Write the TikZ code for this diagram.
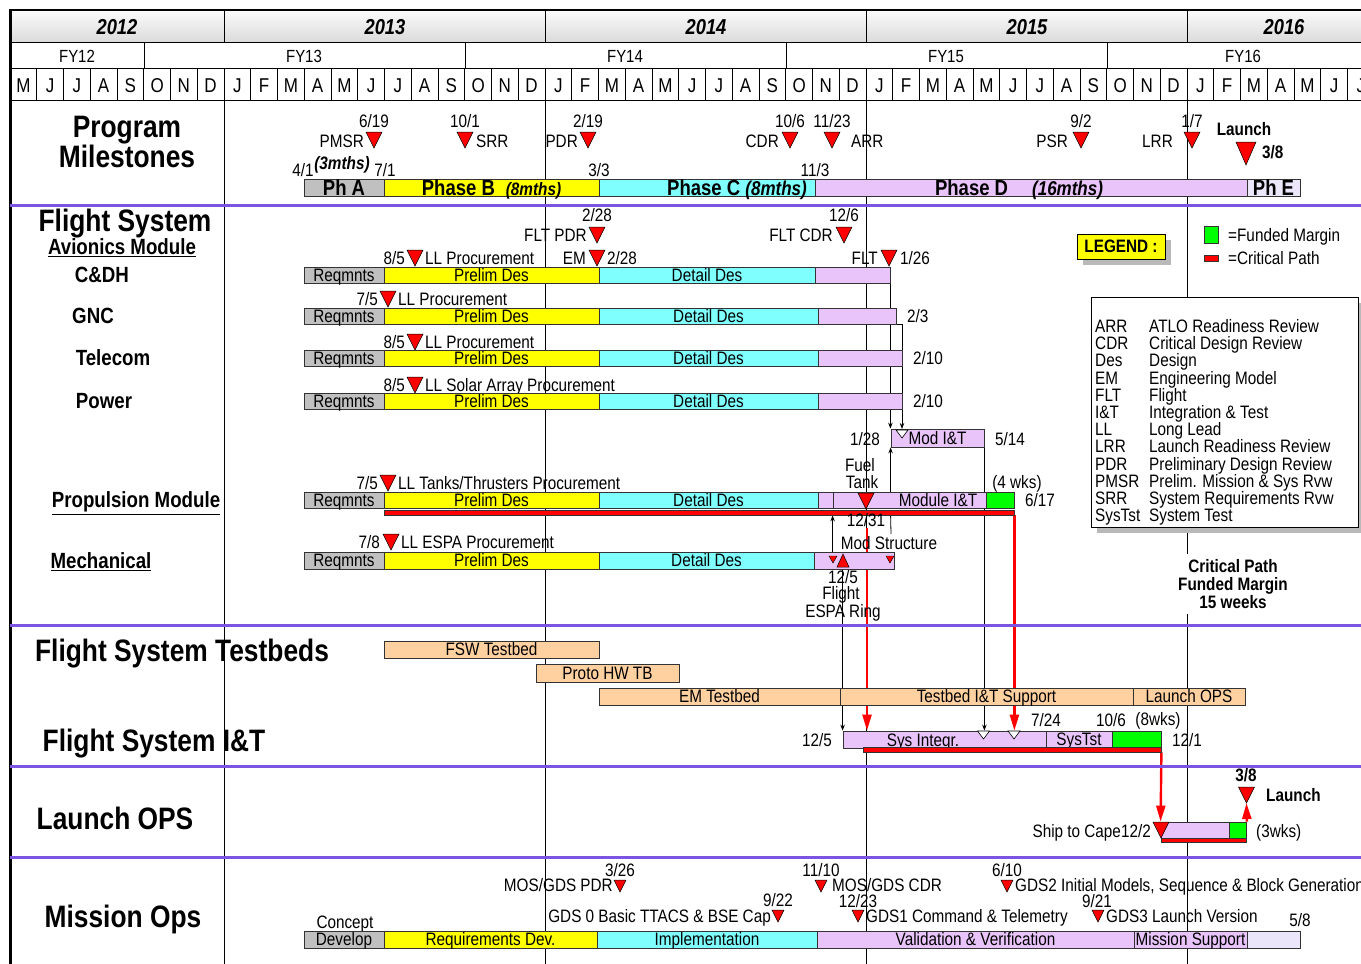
\documentclass[tikz,border=0pt]{standalone}
\usepackage{fontspec}
\setmainfont{Liberation Sans}[FakeStretch=0.85]
\usetikzlibrary{arrows.meta,backgrounds,calc}

\definecolor{phgray}{RGB}{192,192,192}
\definecolor{phyel}{RGB}{255,255,0}
\definecolor{phcyan}{RGB}{128,255,255}
\definecolor{phlav}{RGB}{232,196,250}
\definecolor{phlav2}{RGB}{236,230,250}
\definecolor{margin}{RGB}{0,255,0}
\definecolor{peach}{RGB}{255,208,160}
\definecolor{sectline}{RGB}{124,84,226}

\newcommand{\fnm}{\fontsize{18}{21}\selectfont}
\newcommand{\fttl}{\fontsize{31}{36}\selectfont\bfseries}
\newcommand{\fsub}{\fontsize{22}{26}\selectfont\bfseries}
\newcommand{\fph}{\fontsize{21.8}{26}\selectfont\bfseries}
\newcommand{\fyr}{\fontsize{21.6}{26}\selectfont\bfseries\itshape}
\newcommand{\fmon}{\fontsize{20}{24}\selectfont}
\newcommand{\ffy}{\fontsize{17.6}{21}\selectfont}

% bar segment: [opts]{name}{fill}{x1}{x2}{y1}{y2}{text}
\newcommand{\seg}[8][]{%
  \node[bar,fill=#3,minimum width={#5pt-#4pt},minimum height={#7pt-#6pt},#1]
    (#2) at ({(#4+#5)/2},{(#6+#7)/2}) {#8};}

\begin{document}
\begin{tikzpicture}[x=1pt,y=-1pt,
  >={Stealth[length=6pt,width=4.5pt]},
  lbl/.style={font=\fnm,inner sep=0pt,text height=12.9pt,text depth=0pt},
  blbl/.style={lbl,font=\fnm\bfseries},
  ttl/.style={font=\fttl,inner sep=0pt,text height=22.2pt,text depth=0pt},
  sub/.style={font=\fsub,inner sep=0pt,text height=15.8pt,text depth=0pt},
  yrlbl/.style={font=\fyr,inner sep=0pt,text height=15.5pt,text depth=0pt},
  monlbl/.style={font=\fmon,inner sep=0pt,text height=14.3pt,text depth=0pt},
  fylbl/.style={font=\ffy,inner sep=0pt,text height=12.6pt,text depth=0pt},
  bar/.style={draw=black!80,line width=0.8pt,inner sep=0pt,font=\fnm,
              text height=12.9pt,text depth=0pt},
  phbar/.style={font=\fph,text height=15.6pt},
  phtext/.style={lbl,font=\fph,text height=15.6pt},
  flat/.style={text height=0pt},
  hline/.style={line width=0.9pt},
  sect/.style={draw=sectline,line width=3pt},
  conn/.style={->,line width=0.8pt},
  crit/.style={red,line width=2.4pt,-{Triangle[length=16pt,width=9pt]}},
  ms/.pic={\filldraw[fill=red,draw=black,line width=0.5pt] (-8,0) -- (8,0) -- (0,16) -- cycle;},
  sms/.pic={\filldraw[fill=red,draw=black,line width=0.5pt] (-6,0) -- (6,0) -- (0,12) -- cycle;},
  bms/.pic={\filldraw[fill=red,draw=black,line width=0.5pt] (-10,0) -- (10,0) -- (0,23) -- cycle;},
  ums/.pic={\filldraw[fill=red,draw=black,line width=0.5pt] (-6,0) -- (6,0) -- (0,-13) -- cycle;},
  tms/.pic={\filldraw[fill=red,draw=black,line width=0.4pt] (-4,0) -- (4,0) -- (0,7) -- cycle;},
  wms/.pic={\filldraw[fill=white,draw=black,line width=0.6pt] (-6,0) -- (6,0) -- (0,8) -- cycle;},
]
\useasboundingbox (0,0) rectangle (1361,964);
\clip (0,0) rectangle (1361,964);

% header
\shade[top color=gray!3,bottom color=gray!28] (10,10) rectangle (1361,42);
\draw[hline] (10,42) -- (1361,42) (10,68) -- (1361,68) (10,100) -- (1361,100);
\draw[line width=2.6pt] (9,10) -- (1361,10);
\draw[line width=3pt] (10,9) -- (10,964);
\foreach \x in {224,545,866,1187} \draw[hline] (\x,10) -- (\x,42);
\foreach \x in {144,465,786,1107} \draw[hline] (\x,42) -- (\x,68);
\foreach \i in {1,...,51} \draw[hline] ({10+26.75*\i},68) -- ({10+26.75*\i},100);
\foreach \x/\yr in {117/2012,385/2013,706/2014,1027/2015,1284/2016}
  \node[yrlbl] (yr\yr) at (\x,27) {\yr};
\foreach \x/\fy in {77/12,304/13,625/14,946/15,1243/16}
  \node[fylbl] (fy\fy) at (\x,56) {FY\fy};
\foreach \m [count=\i from 0] in {M,J,J,A,S,O,N,D,J,F,M,A,M,J,J,A,S,O,N,D,
    J,F,M,A,M,J,J,A,S,O,N,D,J,F,M,A,M,J,J,A,S,O,N,D,J,F,M,A,M,J,J}
  \node[monlbl] (mon\i) at ({23.375+26.75*\i},85) {\m};

\foreach \y in {205,625,766,857} \draw[sect] (10,\y) -- (1361,\y);

% section titles
\node[ttl] (tprog) at (127,126) {Program};
\node[ttl] (tmile) at (127,156) {Milestones};
\node[ttl] (tfs) at (125,220) {Flight System};
\node[sub] (tav) at (122,247) {\underline{Avionics Module}};
\node[sub] (tcdh) at (102,275) {C\&DH};
\node[sub] (tgnc) at (93,316) {GNC};
\node[sub] (ttel) at (113,358) {Telecom};
\node[sub] (tpow) at (104,401) {Power};
\node[sub] (tprop) at (136,500) {\underline{Propulsion Module}};
\node[sub] (tmech) at (101,561) {\underline{Mechanical}};
\node[ttl] (ttb) at (182,650) {Flight System Testbeds};
\node[ttl] (tit) at (154,740) {Flight System I\&T};
\node[ttl] (tlops) at (115,818) {Launch OPS};
\node[ttl] (tmops) at (123,916) {Mission Ops};

% program milestones
\pic at (374,132) {ms};
\node[lbl] (d619) at (374,121) {6/19};
\node[lbl,anchor=east] (pmsr) at (364,141) {PMSR};
\pic at (465,132) {ms};
\node[lbl] (d101) at (465,121) {10/1};
\node[lbl,anchor=west] (srr) at (476,141) {SRR};
\pic at (588,132) {ms};
\node[lbl] (d219) at (588,121) {2/19};
\node[lbl,anchor=east] (pdr) at (578,141) {PDR};
\pic at (790,132) {ms};
\node[lbl] (d106) at (790,121) {10/6};
\node[lbl,anchor=east] (cdr) at (779,141) {CDR};
\pic at (832,132) {ms};
\node[lbl] (d1123) at (832,121) {11/23};
\node[lbl,anchor=west] (arr) at (851,141) {ARR};
\pic at (1081,132) {ms};
\node[lbl] (d92) at (1081,121) {9/2};
\node[lbl,anchor=east] (psr) at (1068,141) {PSR};
\pic at (1192,132) {ms};
\node[lbl] (d17) at (1192,121) {1/7};
\node[lbl,anchor=east] (lrr) at (1173,141) {LRR};
\pic at (1246,142) {bms};
\node[blbl] (launch) at (1244,129) {Launch};
\node[blbl,anchor=west] (d38) at (1262,152) {3/8};

\node[lbl] (d41) at (303,170) {4/1};
\node[blbl,font=\fnm\bfseries\itshape] (m3) at (342,163) {(3mths)};
\node[lbl] (d71) at (385,170) {7/1};
\node[lbl] (d33) at (599,170) {3/3};
\node[lbl] (d113) at (815,170) {11/3};

\seg[phbar]{pha}{phgray}{304}{384}{179}{196}{Ph A}
\seg[phbar]{phb}{phyel}{384}{599}{179}{196}{Phase B\enspace{\fontsize{18}{20}\selectfont\itshape(8mths)}}
\seg[phbar]{phc}{phcyan}{599}{815}{179}{196}{}
\node[phtext] (phclbl) at (737,187.5) {Phase C {\fontsize{20}{22}\selectfont\itshape(8mths)}};
\seg[phbar]{phd}{phlav}{815}{1247}{179}{196}{}
\node[phtext] (phdlbl) at (1019,187.5) {Phase D\hspace{24pt}{\fontsize{20}{22}\selectfont\itshape(16mths)}};
\seg[phbar]{phe}{phlav2}{1247}{1300}{179}{196}{Ph E}

% avionics module
\node[lbl] (d228a) at (597,215) {2/28};
\node[lbl,anchor=east] (fltpdr) at (587,235) {FLT PDR};
\pic at (597,227) {ms};
\node[lbl] (d126) at (844,215) {12/6};
\node[lbl,anchor=east] (fltcdr) at (833,235) {FLT CDR};
\pic at (844,227) {ms};

\pic at (415,250) {ms};
\node[lbl,anchor=east] (d85a) at (405,258) {8/5};
\node[lbl,anchor=west] (llcdh) at (425,258) {LL Procurement};
\pic at (597,250) {ms};
\node[lbl,anchor=east] (em) at (586,258) {EM};
\node[lbl,anchor=west] (d228b) at (607,258) {2/28};
\pic at (889,250) {ms};
\node[lbl,anchor=east] (flt) at (878,258) {FLT};
\node[lbl,anchor=west] (d1126) at (900,258) {1/26};

\seg{cdh1}{phgray}{304}{384}{267}{283}{Reqmnts}
\seg{cdh2}{phyel}{384}{599}{267}{283}{Prelim Des}
\seg{cdh3}{phcyan}{599}{815}{267}{283}{Detail Des}
\seg{cdh4}{phlav}{815}{890}{267}{283}{}

\pic at (388,291) {ms};
\node[lbl,anchor=east] (d75a) at (378,299) {7/5};
\node[lbl,anchor=west] (llgnc) at (398,299) {LL Procurement};
\seg{gnc1}{phgray}{304}{384}{308}{324}{Reqmnts}
\seg{gnc2}{phyel}{384}{599}{308}{324}{Prelim Des}
\seg{gnc3}{phcyan}{599}{818}{308}{324}{Detail Des}
\seg{gnc4}{phlav}{818}{896}{308}{324}{}
\node[lbl,anchor=west] (d23) at (907,316) {2/3};

\pic at (415,334) {ms};
\node[lbl,anchor=east] (d85b) at (405,342) {8/5};
\node[lbl,anchor=west] (lltel) at (425,342) {LL Procurement};
\seg{tel1}{phgray}{304}{384}{350}{366}{Reqmnts}
\seg{tel2}{phyel}{384}{599}{350}{366}{Prelim Des}
\seg{tel3}{phcyan}{599}{818}{350}{366}{Detail Des}
\seg{tel4}{phlav}{818}{902}{350}{366}{}
\node[lbl,anchor=west] (d210a) at (913,358) {2/10};

\pic at (415,377) {ms};
\node[lbl,anchor=east] (d85c) at (405,385) {8/5};
\node[lbl,anchor=west] (llpow) at (425,385) {LL Solar Array Procurement};
\seg{pow1}{phgray}{304}{384}{393}{409}{Reqmnts}
\seg{pow2}{phyel}{384}{599}{393}{409}{Prelim Des}
\seg{pow3}{phcyan}{599}{818}{393}{409}{Detail Des}
\seg{pow4}{phlav}{818}{902}{393}{409}{}
\node[lbl,anchor=west] (d210b) at (913,401) {2/10};

\seg{modit}{phlav}{891}{984}{429}{447}{Mod I\&T}
\pic at (902,430) {wms};
\node[lbl,anchor=east] (d128) at (880,439) {1/28};
\node[lbl,anchor=west] (d514) at (995,439) {5/14};

% propulsion module
\pic at (388,475) {ms};
\node[lbl,anchor=east] (d75b) at (378,483) {7/5};
\node[lbl,anchor=west] (llprop) at (398,483) {LL Tanks/Thrusters Procurement};
\node[lbl] (fuel) at (860,465) {Fuel};
\node[lbl] (tank) at (862,482) {Tank};
\node[lbl] (wk4) at (1017,482) {(4 wks)};
\seg{prop1}{phgray}{304}{384}{492}{508}{Reqmnts}
\seg{prop2}{phyel}{384}{599}{492}{508}{Prelim Des}
\seg{prop3}{phcyan}{599}{818}{492}{508}{Detail Des}
\seg{prop4}{phlav}{818}{833}{492}{508}{}
\seg{prop5}{phlav}{833}{986}{492}{508}{}
\node[lbl] (modlbl) at (938,500) {Module I\&T};
\seg{prop6}{margin}{986}{1014}{492}{508}{}
\seg[flat]{pcrit}{red}{384}{1014}{510}{515}{}
\pic at (866,493) {ms};
\node[lbl,anchor=west] (d617) at (1025,500) {6/17};
\node[lbl] (d1231) at (866,520) {12/31};

% mechanical
\pic at (391,534) {ms};
\node[lbl,anchor=east] (d78) at (380,542) {7/8};
\node[lbl,anchor=west] (llmech) at (401,542) {LL ESPA Procurement};
\node[lbl] (modstr) at (889,543) {Mod Structure};
\seg{mech1}{phgray}{304}{384}{552}{569}{Reqmnts}
\seg{mech2}{phyel}{384}{599}{552}{569}{Prelim Des}
\seg{mech3}{phcyan}{599}{814}{552}{569}{Detail Des}
\seg{mech4}{phlav}{814}{894}{552}{569}{}
\pic at (833,556) {tms};
\pic at (843,567) {ums};
\pic at (890,556) {tms};
\node[lbl] (d125a) at (843,577) {12/5};
\node[lbl] (flight) at (841,593) {Flight};
\node[lbl] (espa) at (843,611) {ESPA Ring};

% legend
\fill[gray!55] (1083,240) rectangle (1171,265);
\node[blbl,draw=black,line width=0.8pt,fill=phyel,minimum width=88pt,
      minimum height=25pt] (legend) at (1121,246.5) {LEGEND :};
\seg[flat]{lgfm}{margin}{1204}{1218}{226}{243}{}
\node[lbl,anchor=west] (lgfmt) at (1228,235) {=Funded Margin};
\seg[flat]{lgcp}{red}{1204}{1218}{255}{261}{}
\node[lbl,anchor=west] (lgcpt) at (1228,258) {=Critical Path};

\fill[gray!55] (1097,303) rectangle (1364,533);
\node[draw=black,line width=0.8pt,fill=white,minimum width=267pt,
      minimum height=230pt,inner sep=0pt] (acrbox) at (1224.5,412) {};
\foreach \ab/\df [count=\i from 0] in {ARR/ATLO Readiness Review,
    CDR/Critical Design Review,Des/Design,EM/Engineering Model,FLT/Flight,
    I\&T/Integration \& Test,LL/Long Lead,LRR/Launch Readiness Review,
    PDR/Preliminary Design Review,PMSR/Prelim. Mission \&  Sys Rvw,
    SRR/System Requirements Rvw,SysTst/System Test}{
  \node[lbl,anchor=west] (ab\i) at (1095,{326+17.2*\i}) {\ab};
  \node[lbl,anchor=west] (df\i) at (1149,{326+17.2*\i}) {\df};
}

\node[fill=white,minimum width=100pt,minimum height=60pt,inner sep=0pt] (cpbox) at (1233,584) {};
\node[blbl] (cp1) at (1233,566) {Critical Path};
\node[blbl] (cp2) at (1233,584) {Funded Margin};
\node[blbl] (cp3) at (1233,602) {15 weeks};

% testbeds
\seg{fsw}{peach}{384}{599}{641}{658}{FSW Testbed}
\seg{protohw}{peach}{536}{679}{664}{682}{Proto HW TB}
\seg{emtb}{peach}{599}{840}{688}{705}{EM Testbed}
\seg{tbit}{peach}{840}{1133}{688}{705}{Testbed I\&T Support}
\seg{tblops}{peach}{1133}{1245}{688}{705}{Launch OPS}

% flight system I&T
\seg{sysint}{phlav}{843}{1046}{731}{748}{}
\node[lbl] (sysintlbl) at (923,740) {Sys Integr.};
\seg{systst}{phlav}{1046}{1112}{731}{748}{SysTst}
\seg{sysmarg}{margin}{1112}{1161}{731}{748}{}
\seg[flat]{sitcrit}{red}{863}{1161}{747}{752}{}
\pic at (983.5,731) {wms};
\pic at (1014,731) {wms};
\node[lbl,anchor=east] (d125b) at (832,740) {12/5};
\node[lbl] (d724) at (1046,720) {7/24};
\node[lbl] (d106b) at (1111,720) {10/6};
\node[lbl] (wk8) at (1158,719) {(8wks)};
\node[lbl,anchor=west] (d121) at (1172,740) {12/1};

% launch ops
\seg{shipbar}{phlav}{1161}{1229}{822}{838}{}
\seg{shipmarg}{margin}{1229}{1246.5}{822}{838}{}
\seg[flat]{shipcrit}{red}{1161}{1246.5}{838}{842}{}
\pic at (1161,822) {ms};
\pic at (1246.5,787) {ms};
\coordinate (lnchtri) at (1246.5,803);
\node[lbl,anchor=east] (ship) at (1151,831) {Ship to Cape12/2};
\node[lbl,anchor=west] (wk3) at (1256,831) {(3wks)};
\node[blbl] (d38b) at (1246,775) {3/8};
\node[blbl,anchor=west] (launchb) at (1266,795) {Launch};

% mission ops
\pic at (620,880) {sms};
\node[lbl] (d326) at (620,870) {3/26};
\node[lbl,anchor=east] (mospdr) at (613,885) {MOS/GDS PDR};
\pic at (778,910) {sms};
\node[lbl] (d922) at (778,900) {9/22};
\node[lbl,anchor=east] (gds0) at (771,916) {GDS 0 Basic TTACS \& BSE Cap};
\pic at (821,880) {sms};
\node[lbl] (d1110) at (821,870) {11/10};
\node[lbl,anchor=west] (moscdr) at (832,885) {MOS/GDS CDR};
\pic at (858,910) {sms};
\node[lbl] (d1223) at (858,901) {12/23};
\node[lbl,anchor=west] (gds1) at (866,916) {GDS1 Command \& Telemetry};
\pic at (1007,880) {sms};
\node[lbl] (d610) at (1007,870) {6/10};
\node[lbl,anchor=west] (gds2) at (1015,885) {GDS2 Initial Models, Sequence \& Block Generation};
\pic at (1098,910) {sms};
\node[lbl] (d921) at (1097,901) {9/21};
\node[lbl,anchor=west] (gds3) at (1106,916) {GDS3 Launch Version};
\node[lbl] (concept) at (345,922) {Concept};
\node[lbl] (d58) at (1300,920) {5/8};
\seg{mo1}{phgray}{304}{384}{931}{948}{Develop}
\seg{mo2}{phyel}{384}{597}{931}{948}{Requirements Dev.}
\seg{mo3}{phcyan}{597}{817}{931}{948}{Implementation}
\seg{mo4}{phlav}{817}{1134}{931}{948}{Validation \& Verification}
\seg{mo5}{phlav}{1134}{1247}{931}{948}{Mission Support}
\seg{mo6}{phlav2}{1247}{1300}{931}{948}{}

% year lines and links
\begin{scope}[on background layer]
  \foreach \x in {224,545,866,1187} \draw[hline] (\x,100) -- (\x,964);
  \coordinate (gncin) at (902,429);
  \coordinate (modtop) at (891,534);
  \coordinate (ftank) at (867,528);
  \draw[conn] (cdh4.south east) -- (cdh4.south east |- modit.north);
  \draw[conn] (gnc4.south east) -| (gncin);
  \draw[conn] (modit.south west |- prop5.north) -- (modit.south west);
  \draw[line width=0.8pt] (modit.south west |- pcrit.south) -- (modtop);
  \draw[conn] (prop5.south west |- mech4.north) -- (prop5.south west |- pcrit.south);
  \draw[conn] (sysint.north west |- mech4.south) -- (sysint.north west);
  \draw[conn] (modit.south east) -- (modit.south east |- sysint.north);
  \draw[crit] (ftank) -- (ftank |- sysint.north);
  \draw[crit] (pcrit.south east) -- (pcrit.south east |- sysint.north);
  \draw[crit] (sitcrit.south east) -- (shipbar.north west);
  \draw[crit] (shipmarg.north east) -- (lnchtri);
\end{scope}
\end{tikzpicture}
\end{document}
